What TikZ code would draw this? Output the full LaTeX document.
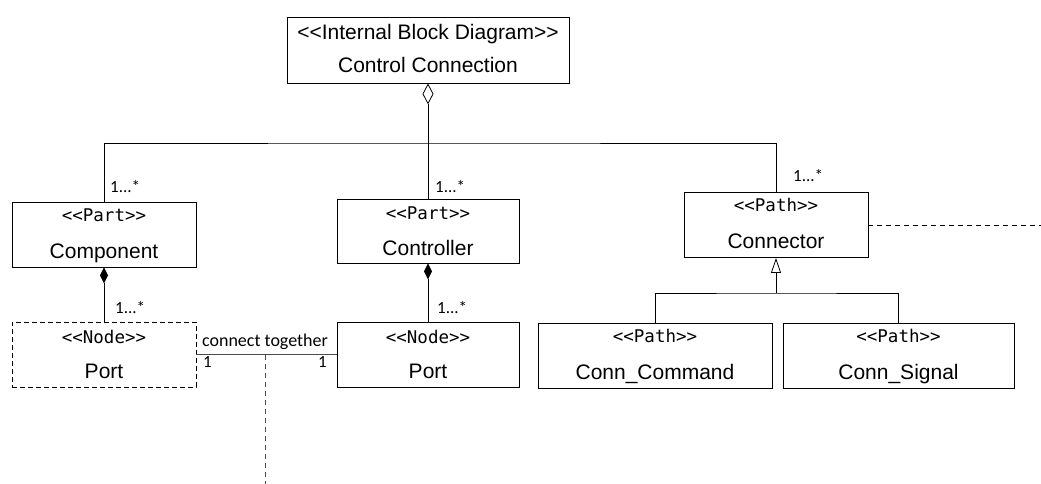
\documentclass[tikz,border=0pt]{standalone}
\usepackage{fontspec}
\setmainfont{Liberation Sans}
\newfontfamily\stereofont{DejaVu Sans Mono}
\newfontfamily\labfont{Carlito}
\usetikzlibrary{arrows.meta}
\begin{document}
\begin{tikzpicture}[x=1pt,y=-1pt,
  box/.style={draw, line width=0.8pt, inner sep=0pt, minimum width=184pt, minimum height=65pt},
  dbox/.style={box, dash pattern=on 5pt off 3pt},
  stereo/.style={anchor=base, inner sep=0pt, font=\stereofont\fontsize{17.5}{20}\selectfont},
  nametext/.style={anchor=base, inner sep=0pt, font=\fontsize{21}{25}\selectfont},
  mult/.style={anchor=base west, inner sep=0pt, font=\labfont\fontsize{17}{20}\selectfont},
  lnk/.style={line width=0.8pt},
  glnk/.style={line width=0.8pt, draw=black!70},
  dlnk/.style={line width=0.8pt, draw=black!70, dash pattern=on 5pt off 4pt},
  aggr/.style={lnk, {Diamond[open, length=21pt, width=11pt, line width=0.8pt]}-},
  comp/.style={lnk, {Diamond[length=16pt, width=8pt]}-},
  gen/.style={lnk, {Triangle[open, length=15pt, width=10pt, line width=0.8pt]}-}
]
\useasboundingbox (0,0) rectangle (1041,484);

% boxes
\node[box, minimum width=282pt, minimum height=66pt] (top) at (428,50) {};
\node[nametext] (topS) at (428,40) {<{}<Internal Block Diagram>{}>};
\node[nametext] (topN) at (428,73) {Control Connection};

\node[box] (compB) at (104,234.5) {};
\node[stereo] (compS) at (104,221) {<<Part>>};
\node[nametext] (compN) at (104,258) {Component};

\node[box, minimum width=182pt, minimum height=64pt] (ctrlB) at (428,231) {};
\node[stereo] (ctrlS) at (428,219) {<<Part>>};
\node[nametext] (ctrlN) at (428,255) {Controller};

\node[box] (connB) at (776,225) {};
\node[stereo] (connS) at (776,211) {<<Path>>};
\node[nametext] (connN) at (776,248) {Connector};

\node[dbox] (port1) at (104,354.5) {};
\node[stereo] (port1S) at (104,343) {<<Node>>};
\node[nametext] (port1N) at (104,378) {Port};

\node[box, minimum width=182pt] (port2) at (428,354.5) {};
\node[stereo] (port2S) at (428,343) {<<Node>>};
\node[nametext] (port2N) at (428,378) {Port};

\node[box, minimum width=234pt] (cmd) at (655,355.5) {};
\node[stereo] (cmdS) at (655,342) {<<Path>>};
\node[nametext] (cmdN) at (655,379) {Conn\_Command};

\node[box, minimum width=231pt] (sig) at (898.5,355.5) {};
\node[stereo] (sigS) at (898.5,342) {<<Path>>};
\node[nametext] (sigN) at (898.5,379) {Conn\_Signal};

% aggregation bus
\coordinate (bus) at (428,143);
\draw[aggr] (top.south) -- (bus);
\draw[lnk] (compB.north) |- (bus) -| (connB.north);
\draw[lnk] (bus) -- (ctrlB.north);

% compositions
\draw[comp] (compB.south) -- (port1.north);
\draw[comp] (ctrlB.south) -- (port2.north);

% generalization
\coordinate (gj) at (776,293);
\draw[gen] (connB.south) -- (gj);
\draw[lnk] (cmd.north) |- (gj) -| (sig.north);

% connector dashed outgoing
\coordinate (dend) at (1041,225);
\draw[dlnk, draw=black] (connB.east) -- (dend);

% connect together
\draw[glnk] (port1.east) -- (port2.west);
\coordinate (cmid) at (265,354.5);
\coordinate (cend) at (265,484);
\draw[dlnk] (cmid) -- (cend);

% labels
\node[mult] (m1) at (110,192) {1...*};
\node[mult] (m2) at (435,192) {1...*};
\node[mult] (m3) at (793,181) {1...*};
\node[mult] (m4) at (115,313) {1...*};
\node[mult] (m5) at (437,313) {1...*};
\node[mult] (m6) at (203,367) {1};
\node[mult] (m7) at (318,367) {1};
\node[anchor=base, inner sep=0pt, font=\labfont\fontsize{18}{21}\selectfont] (ct) at (265,346) {connect together};
\end{tikzpicture}
\end{document}
